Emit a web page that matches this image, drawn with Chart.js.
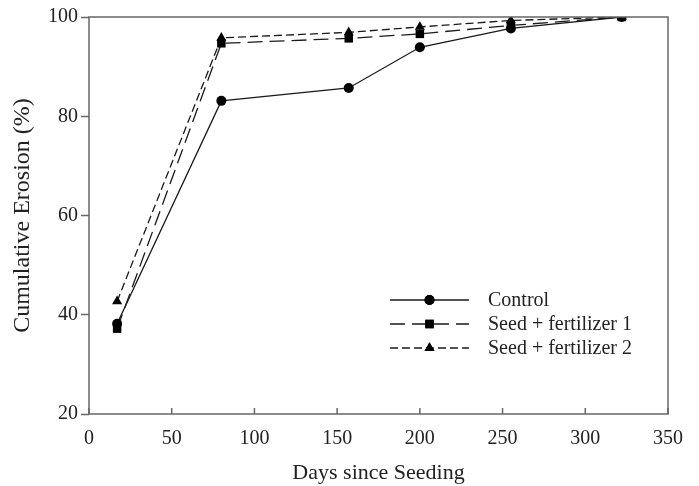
<!DOCTYPE html>
<html>
<head>
<meta charset="utf-8">
<script src="https://cdn.jsdelivr.net/npm/chart.js@4/dist/chart.umd.min.js"></script>
<style>
  html, body { margin: 0; padding: 0; background: #fff; }
  #wrap { width: 699px; height: 486px; }
</style>
</head>
<body>
<div id="wrap"><canvas id="chart"></canvas></div>
<script>
const days = [17, 80, 157, 200, 255, 322];
const control = [38.2, 83.1, 85.7, 93.9, 97.7, 100];
const fert1 = [37.2, 94.7, 95.7, 96.6, 98.3, 100];
const fert2 = [42.7, 95.8, 96.9, 98.0, 99.3, 100];
const seriesNames = ['Control', 'Seed + fertilizer 1', 'Seed + fertilizer 2'];
const xTicks = [0, 50, 100, 150, 200, 250, 300, 350];
const yTicks = [20, 40, 60, 80, 100];

const serif = "'Liberation Serif', 'DejaVu Serif', serif";
const axisColor = '#666';

function toPoints(ys) {
  return days.map((d, i) => ({ x: d, y: ys[i] }));
}

function makeSet(label, ys, style, radius, dash) {
  return {
    label: label,
    data: toPoints(ys),
    showLine: true,
    borderColor: '#1a1a1a',
    borderWidth: 1.3,
    borderDash: dash,
    pointStyle: style,
    pointRadius: radius,
    pointBackgroundColor: '#000',
    pointBorderColor: '#000',
    pointBorderWidth: 0,
  };
}

// box around plot + inward ticks on the x axis
const framePlugin = {
  id: 'frame',
  afterDraw(chart) {
    const { ctx, chartArea: a } = chart;
    const xs = chart.scales.x;
    ctx.save();
    ctx.strokeStyle = axisColor;
    ctx.lineWidth = 1.5;
    ctx.strokeRect(a.left, a.top, a.right - a.left, a.bottom - a.top);
    ctx.beginPath();
    xTicks.forEach(v => {
      const px = xs.getPixelForValue(v);
      ctx.moveTo(px, a.bottom);
      ctx.lineTo(px, a.bottom - 6);
    });
    ctx.stroke();
    ctx.restore();
  }
};

// legend inside the plot, line sample with marker in the middle
const legendPlugin = {
  id: 'boxLegend',
  afterDraw(chart) {
    const { ctx, chartArea: a } = chart;
    const x0 = a.left + 301, x1 = a.left + 380, xm = (x0 + x1) / 2;
    const y0 = a.top + 283, step = 24;
    ctx.save();
    chart.data.datasets.forEach((ds, i) => {
      const y = y0 + i * step;
      ctx.strokeStyle = ds.borderColor;
      ctx.lineWidth = ds.borderWidth;
      ctx.setLineDash(ds.borderDash || []);
      ctx.beginPath();
      ctx.moveTo(x0, y);
      ctx.lineTo(x1, y);
      ctx.stroke();
      ctx.setLineDash([]);
      ctx.fillStyle = '#000';
      Chart.helpers.drawPoint(ctx, { pointStyle: ds.pointStyle, radius: ds.pointRadius, borderWidth: 0 }, xm, y);
      ctx.fill();
      ctx.fillStyle = '#222';
      ctx.font = '20px ' + serif;
      ctx.textBaseline = 'middle';
      ctx.fillText(seriesNames[i], x1 + 19, y + 1);
    });
    ctx.restore();
  }
};

new Chart(document.getElementById('chart'), {
  type: 'scatter',
  data: {
    datasets: [
      makeSet(seriesNames[0], control, 'circle', 5, []),
      makeSet(seriesNames[1], fert1, 'rect', 6, [15, 7]),
      makeSet(seriesNames[2], fert2, 'triangle', 5.8, [8, 4]),
    ],
  },
  options: {
    responsive: true,
    maintainAspectRatio: false,
    animation: false,
    layout: { padding: { top: 17, right: 31, left: 0, bottom: 0 } },
    plugins: {
      legend: { display: false },
      tooltip: { enabled: false },
    },
    scales: {
      x: {
        type: 'linear',
        min: 0,
        max: 350,
        afterFit: s => { s.height = 72; },
        afterBuildTicks: s => { s.ticks = xTicks.map(v => ({ value: v })); },
        border: { display: false },
        grid: { drawOnChartArea: false, drawTicks: false },
        ticks: { color: '#222', padding: 13, font: { family: serif, size: 20 } },
        title: {
          display: true,
          text: 'Days since Seeding',
          color: '#222',
          font: { family: serif, size: 22 },
          padding: { top: 0, bottom: 0 },
        },
      },
      y: {
        min: 20,
        max: 100,
        afterFit: s => { s.width = 89; },
        afterBuildTicks: s => { s.ticks = yTicks.map(v => ({ value: v })); },
        border: { display: false },
        grid: { drawOnChartArea: false, drawTicks: true, tickLength: 8, tickColor: axisColor, tickWidth: 1.5 },
        ticks: { color: '#222', padding: 3, font: { family: serif, size: 20 } },
        title: {
          display: true,
          text: 'Cumulative Erosion (%)',
          color: '#222',
          font: { family: serif, size: 24 },
          padding: { top: 8, bottom: 0 },
        },
      },
    },
  },
  plugins: [framePlugin, legendPlugin],
});
</script>
</body>
</html>
